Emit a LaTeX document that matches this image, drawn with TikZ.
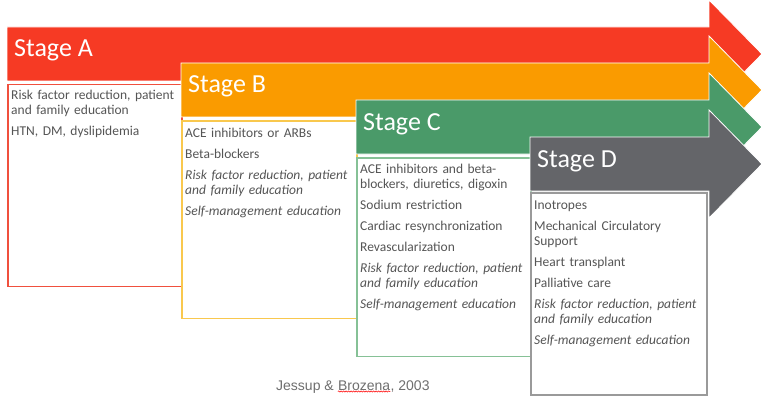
\documentclass[tikz,border=0pt]{standalone}
\usepackage{fontspec}
\setmainfont{Carlito}
\newfontfamily\capfont{Liberation Sans}
\usetikzlibrary{decorations.pathmorphing}
\begin{document}
\begin{tikzpicture}[x=1pt,y=-1pt]
  \definecolor{stagea}{HTML}{F63A24}
  \definecolor{stageb}{HTML}{FA9B00}
  \definecolor{stagec}{HTML}{4A9A69}
  \definecolor{staged}{HTML}{646569}
  \definecolor{bordera}{HTML}{F0503E}
  \definecolor{borderb}{HTML}{F9C84E}
  \definecolor{borderc}{HTML}{86C196}
  \definecolor{borderd}{HTML}{9A9A9A}
  \definecolor{textgray}{HTML}{555555}
  \tikzstyle{band}=[draw=white, line width=0.8pt]
  \tikzstyle{title}=[anchor=base west, text=white, font=\fontsize{26}{30}\selectfont, inner sep=0pt]
  \tikzstyle{card}=[anchor=north west, inner sep=0pt]
  \tikzstyle{sheet}=[fill=white, anchor=north west, inner sep=0pt]
  \tikzstyle{items}=[anchor=north west, align=left, text width=172pt, inner sep=0pt, text=textgray, font=\fontsize{13.5}{15}\selectfont]

  \useasboundingbox (0,0) rectangle (762,401);

  % Stage A, the widest band, starts at the left margin
  % Cards are a coloured sheet with a white sheet 1.3 px inside it
  \filldraw[band, fill=stagea] (7,27) -- (709,27) -- (709,0) -- (762,54) -- (709,108) -- (709,81) -- (7,81) -- cycle;
  \node[title] (ta) at (14,57) {Stage A};
  \node[card, fill=bordera, minimum width=175.3pt, minimum height=203pt] (ca) at (7,84) {};
  \node[sheet, minimum width=172.7pt, minimum height=200.4pt] (sa) at ([xshift=1.3pt,yshift=-1.3pt]ca.north west) {};
  \node[items] (la) at ([xshift=4pt,yshift=-4.5pt]ca.north west)
    {\strut Risk factor reduction, patient\\ and family education\\[6pt] HTN, DM, dyslipidemia};

  % Stage B, shifted 37 px down and 174 px right
  \filldraw[band, fill=stageb] (181,63) -- (709,63) -- (709,36) -- (762,90) -- (709,144) -- (709,117) -- (181,117) -- cycle;
  \node[title] (tb) at (188,93) {Stage B};
  \node[card, fill=borderb, minimum width=176.3pt, minimum height=199pt] (cb) at (181,120) {};
  \node[sheet, minimum width=173.7pt, minimum height=196.4pt] (sb) at ([xshift=1.3pt,yshift=-1.3pt]cb.north west) {};
  \node[items] (lb) at ([xshift=4pt,yshift=-6.5pt]cb.north west)
    {\strut ACE inhibitors or ARBs\\[6pt] Beta-blockers\\[6pt]
     \textit{Risk factor reduction, patient}\\ \textit{and family education}\\[6pt]
     \textit{Self-management education}};

  % Stage C
  \filldraw[band, fill=stagec] (356,100) -- (709,100) -- (709,73) -- (762,127) -- (709,181) -- (709,154) -- (356,154) -- cycle;
  \node[title] (tc) at (363,130) {Stage C};
  \node[card, fill=borderc, minimum width=175.3pt, minimum height=200pt] (cc) at (356,157) {};
  \node[sheet, minimum width=172.7pt, minimum height=197.4pt] (sc) at ([xshift=1.3pt,yshift=-1.3pt]cc.north west) {};
  \node[items] (lc) at ([xshift=4pt,yshift=-5.5pt]cc.north west)
    {\strut ACE inhibitors and beta-\\ blockers, diuretics, digoxin\\[6pt] Sodium restriction\\[6pt]
     Cardiac resynchronization\\[6pt] Revascularization\\[6pt]
     \textit{Risk factor reduction, patient}\\ \textit{and family education}\\[6pt]
     \textit{Self-management education}};

  % Stage D, the last band, on top of the others
  \filldraw[band, fill=staged] (530,137) -- (709,137) -- (709,110) -- (762,164) -- (709,218) -- (709,191) -- (530,191) -- cycle;
  \node[title] (td) at (537,167) {Stage D};
  \node[card, fill=borderd, minimum width=177.3pt, minimum height=203.5pt] (cd) at (530,192) {};
  \node[sheet, minimum width=174.7pt, minimum height=200.9pt] (sd) at ([xshift=1.3pt,yshift=-1.3pt]cd.north west) {};
  \node[items] (ld) at ([xshift=4pt,yshift=-6.5pt]cd.north west)
    {\strut Inotropes\\[6pt] Mechanical Circulatory\\ Support\\[6pt] Heart transplant\\[6pt]
     Palliative care\\[6pt]
     \textit{Risk factor reduction, patient}\\ \textit{and family education}\\[6pt]
     \textit{Self-management education}};

  % Source line, with the spell-check squiggle under the name
  \node[anchor=base west, inner sep=0pt, text=textgray!85, font=\capfont\fontsize{14}{16}\selectfont] (capl) at (276,390) {Jessup \&};
  \node[anchor=base west, inner sep=0pt, text=textgray!85, font=\capfont\fontsize{14}{16}\selectfont] (capb) at ([xshift=3.9pt]capl.base east) {Brozena};
  \node[anchor=base west, inner sep=0pt, text=textgray!85, font=\capfont\fontsize{14}{16}\selectfont] (capr) at (capb.base east) {, 2003};
  \draw[red, line width=0.5pt, decorate, decoration={snake, amplitude=0.6pt, segment length=2.5pt}]
    ([yshift=-1.5pt]capb.base west) -- ([yshift=-1.5pt]capb.base east);
\end{tikzpicture}
\end{document}
